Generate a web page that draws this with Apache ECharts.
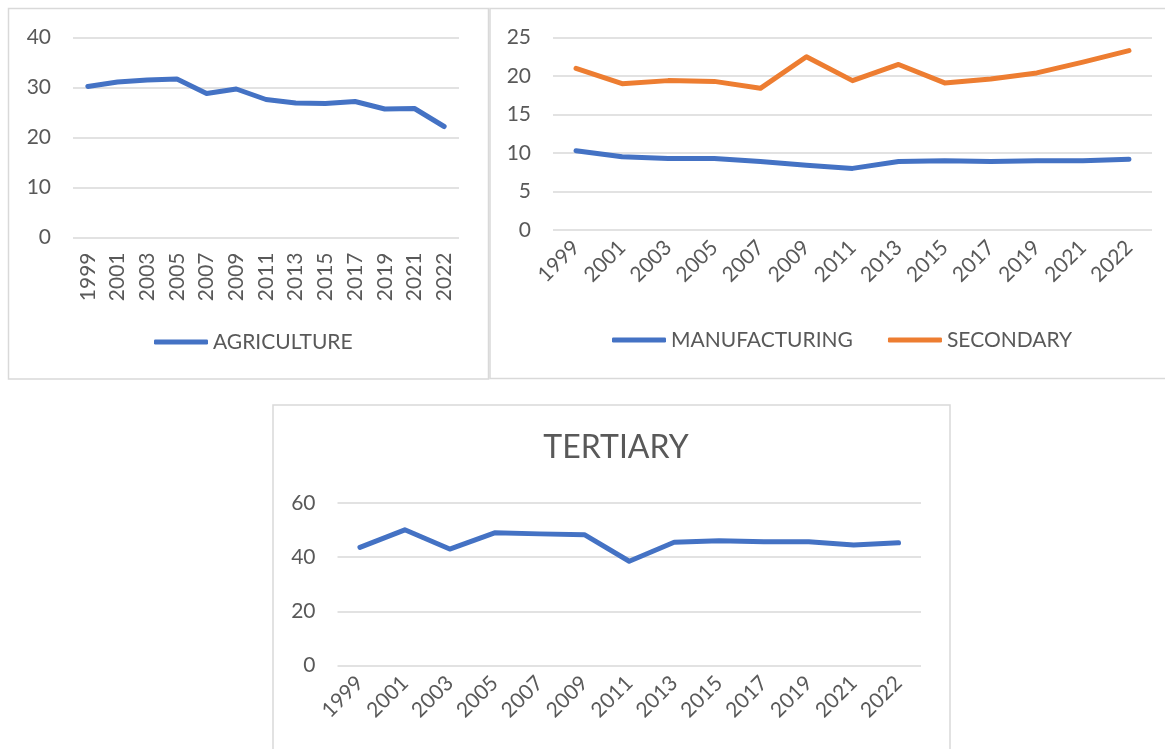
<!DOCTYPE html>
<html>
<head>
<meta charset="utf-8">
<script src="https://cdn.jsdelivr.net/npm/echarts@6/dist/echarts.min.js"></script>
<style>
  html, body { margin: 0; padding: 0; background: #fff; }
  #chart { width: 1165px; height: 749px; }
</style>
</head>
<body>
<div id="chart"></div>
<script>
// categories
const years = ["1999", "2001", "2003", "2005", "2007", "2009", "2011", "2013", "2015", "2017", "2019", "2021", "2022"];

// series values (share, %)
const agriculture = [30.2, 31.1, 31.5, 31.7, 28.8, 29.7, 27.6, 26.9, 26.8, 27.2, 25.7, 25.8, 22.2];
const manufacturing = [10.3, 9.5, 9.3, 9.3, 8.9, 8.4, 8.0, 8.9, 9.0, 8.9, 9.0, 9.0, 9.2];
const secondary = [21.0, 19.0, 19.4, 19.3, 18.4, 22.5, 19.4, 21.5, 19.1, 19.6, 20.4, 21.8, 23.3];
const tertiary = [43.6, 50.1, 43.0, 49.0, 48.6, 48.3, 38.5, 45.5, 46.1, 45.7, 45.7, 44.5, 45.3];

// value axis ticks [min, max, step]
const agriTicks = [0, 40, 10];
const secTicks = [0, 25, 5];
const terTicks = [0, 60, 20];

const BLUE = "#4472c4";
const ORANGE = "#ed7d31";
const TEXT = "#595959";
const GRID = "#d9d9d9";
const FONT = "Lato, 'Open Sans', sans-serif";

function catAxis(gridIndex, rotate, margin) {
  return {
    type: "category",
    gridIndex: gridIndex,
    data: years,
    boundaryGap: true,
    axisLine: { show: false },
    axisTick: { show: false },
    axisLabel: {
      rotate: rotate,
      margin: margin,
      interval: 0,
      color: TEXT,
      fontSize: 21,
      fontFamily: FONT
    }
  };
}

function valAxis(gridIndex, ticks) {
  return {
    type: "value",
    gridIndex: gridIndex,
    min: ticks[0],
    max: ticks[1],
    interval: ticks[2],
    axisLine: { show: false },
    axisTick: { show: false },
    splitLine: { lineStyle: { color: GRID, width: 1.5 } },
    axisLabel: {
      margin: 22,
      color: TEXT,
      fontSize: 21,
      fontFamily: FONT
    }
  };
}

function lineSeries(name, data, color, idx) {
  return {
    name: name,
    type: "line",
    xAxisIndex: idx,
    yAxisIndex: idx,
    data: data,
    symbol: "none",
    smooth: false,
    lineStyle: { color: color, width: 5, cap: "round", join: "round" },
    itemStyle: { color: color }
  };
}

const legendBase = {
  orient: "horizontal",
  icon: "roundRect",
  padding: 0,
  itemWidth: 54,
  itemHeight: 5,
  itemGap: 35,
  textStyle: { color: TEXT, fontSize: 21, fontFamily: FONT, lineHeight: 22 }
};

const option = {
  animation: false,
  backgroundColor: "#fff",
  title: {
    text: "TERTIARY",
    left: 611,
    top: 427,
    textAlign: "center",
    textStyle: { color: TEXT, fontSize: 32, fontWeight: "normal", fontFamily: FONT }
  },
  // panel borders
  graphic: [
    { type: "rect", shape: { x: 8.5, y: 8.5, width: 480, height: 370.5 }, style: { fill: "none", stroke: GRID, lineWidth: 1.5 }, z: -1 },
    { type: "rect", shape: { x: 490, y: 8.5, width: 700, height: 370 }, style: { fill: "none", stroke: GRID, lineWidth: 1.5 }, z: -1 },
    { type: "rect", shape: { x: 273, y: 405, width: 677, height: 400 }, style: { fill: "none", stroke: GRID, lineWidth: 1.5 }, z: -1 }
  ],
  legend: [
    Object.assign({}, legendBase, { data: ["AGRICULTURE"], left: 154, top: 331 }),
    Object.assign({}, legendBase, { data: ["MANUFACTURING", "SECONDARY"], left: 612, top: 329 })
  ],
  grid: [
    { left: 73, top: 37.5, width: 386, height: 200 },
    { left: 553, top: 37.5, width: 599, height: 192.5 },
    { left: 337.5, top: 503, width: 583.5, height: 162.5 }
  ],
  xAxis: [catAxis(0, 90, 15), catAxis(1, 45, 14), catAxis(2, 45, 14)],
  yAxis: [valAxis(0, agriTicks), valAxis(1, secTicks), valAxis(2, terTicks)],
  series: [
    lineSeries("AGRICULTURE", agriculture, BLUE, 0),
    lineSeries("MANUFACTURING", manufacturing, BLUE, 1),
    lineSeries("SECONDARY", secondary, ORANGE, 1),
    lineSeries("TERTIARY", tertiary, BLUE, 2)
  ]
};

const chart = echarts.init(document.getElementById("chart"));
chart.setOption(option);
</script>
</body>
</html>
